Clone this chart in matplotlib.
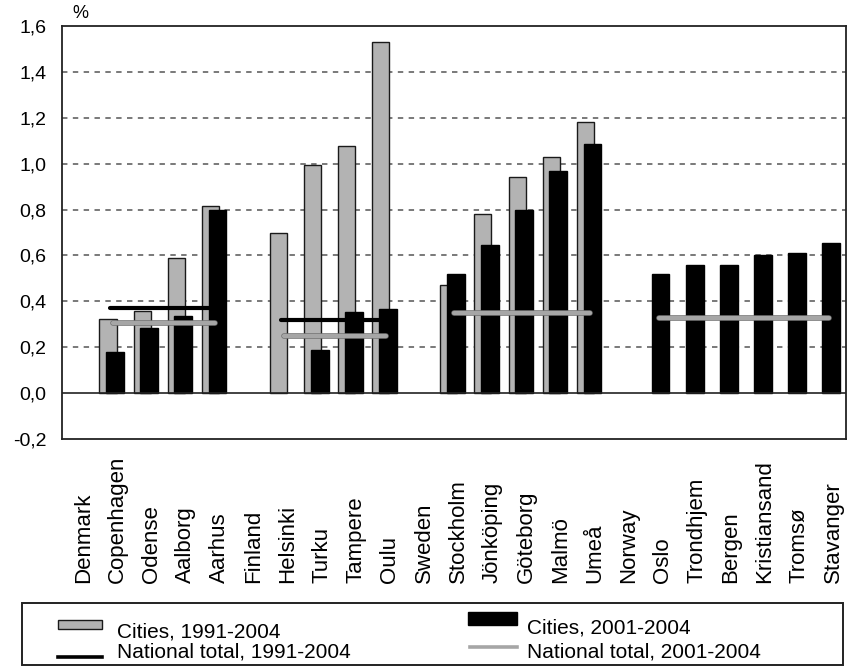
import numpy as np
import matplotlib
matplotlib.use("Agg")
import matplotlib.pyplot as plt
from matplotlib.patches import Rectangle
from matplotlib.lines import Line2D
from matplotlib.transforms import blended_transform_factory
import matplotlib.patheffects as pe

plt.rcParams['font.family'] = ['Liberation Sans', 'DejaVu Sans']

categories = ["Denmark", "Copenhagen", "Odense", "Aalborg", "Aarhus",
              "Finland", "Helsinki", "Turku", "Tampere", "Oulu",
              "Sweden", "Stockholm", "Jönköping", "Göteborg", "Malmö", "Umeå",
              "Norway", "Oslo", "Trondhjem", "Bergen", "Kristiansand", "Tromsø", "Stavanger"]

nan = np.nan
cities_1991_2004 = [nan, 0.325, 0.36, 0.59, 0.815,
                    nan, 0.70, 0.995, 1.075, 1.53,
                    nan, 0.47, 0.78, 0.94, 1.03, 1.18,
                    nan, nan, nan, nan, nan, nan, nan]
cities_2001_2004 = [nan, 0.18, 0.283, 0.336, 0.80,
                    nan, nan, 0.19, 0.355, 0.365,
                    nan, 0.517, 0.645, 0.80, 0.97, 1.085,
                    nan, 0.52, 0.56, 0.56, 0.60, 0.609, 0.655]

# national totals: (first city index, last city index, value)
national_1991_2004 = [(1, 4, 0.37), (6, 9, 0.317)]
national_2001_2004 = [(1, 4, 0.304), (6, 9, 0.248), (11, 15, 0.348), (17, 22, 0.326)]

y_ticks = [-0.2, 0.0, 0.2, 0.4, 0.6, 0.8, 1.0, 1.2, 1.4, 1.6]

W, H = 850, 667
fig = plt.figure(figsize=(W / 100, H / 100), dpi=100)

def fx(px):
    return px / W

def fy(py):
    return 1 - py / H

ax = fig.add_axes([fx(62), fy(439), fx(846) - fx(62), fy(26) - fy(439)])

x = np.arange(len(categories))
gray_c = '#b3b3b3'
ax.bar(x - 0.15, cities_1991_2004, width=0.5, color=gray_c, edgecolor='#1a1a1a',
       linewidth=1.0, zorder=2)
ax.bar(x + 0.06, cities_2001_2004, width=0.52, color='black', edgecolor='black',
       linewidth=1.0, zorder=3)

for s, e, v in national_1991_2004:
    ax.plot([s - 0.08, e], [v, v], color='black', lw=3.0, solid_capstyle='round', zorder=5)
for s, e, v in national_2001_2004:
    ax.plot([s, e], [v, v], color='#a6a6a6', lw=3.0, solid_capstyle='round', zorder=6,
            path_effects=[pe.Stroke(linewidth=4.0, foreground='#707070'), pe.Normal()])

ax.set_xlim(-0.5, len(categories) - 0.5)
ax.set_ylim(-0.2, 1.6)
ax.set_yticks(y_ticks)
ax.set_yticklabels([f"{t:.1f}".replace('.', ',') for t in y_ticks], fontsize=14)
ax.tick_params(axis='y', length=0, pad=11)
ax.set_xticks([])

for t in y_ticks[2:-1]:
    ax.axhline(t, color='#6e6e6e', lw=1.3, linestyle=(0, (3, 3)), zorder=1)
ax.axhline(0, color='#222222', lw=1.2, zorder=4)

for sp in ax.spines.values():
    sp.set_color('#222222')
    sp.set_linewidth(1.3)

# category labels
trans = blended_transform_factory(ax.transData, fig.transFigure)
for i, c in enumerate(categories):
    ax.text(i + 0.12, fy(583), c, rotation=90, ha='center', va='bottom',
            fontsize=16, transform=trans, clip_on=False)

fig.text(fx(80), fy(14), '%', ha='center', va='center', fontsize=13)

# legend box
fig.add_artist(Rectangle((fx(22), fy(665)), fx(843) - fx(22), fy(603) - fy(665),
                         transform=fig.transFigure, fill=False, edgecolor='#222222', lw=1.4))
fig.add_artist(Rectangle((fx(58), fy(629)), fx(102) - fx(58), fy(620) - fy(629),
                         transform=fig.transFigure, facecolor=gray_c, edgecolor='#1a1a1a', lw=1.0))
fig.add_artist(Rectangle((fx(468), fy(625)), fx(517) - fx(468), fy(612) - fy(625),
                         transform=fig.transFigure, facecolor='black', edgecolor='black', lw=1.0))
fig.add_artist(Line2D([fx(58), fx(102)], [fy(656.5), fy(656.5)], transform=fig.transFigure,
                      color='black', lw=2.6))
fig.add_artist(Line2D([fx(470), fx(517)], [fy(647), fy(647)], transform=fig.transFigure,
                      color='#a6a6a6', lw=2.6))
lfs = 15
fig.text(fx(117), fy(637), 'Cities, 1991-2004', fontsize=lfs, va='baseline', ha='left')
fig.text(fx(117), fy(658), 'National total, 1991-2004', fontsize=lfs, va='baseline', ha='left')
fig.text(fx(527), fy(633), 'Cities, 2001-2004', fontsize=lfs, va='baseline', ha='left')
fig.text(fx(527), fy(657), 'National total, 2001-2004', fontsize=lfs, va='baseline', ha='left')

fig.savefig('out.png', dpi=100)
